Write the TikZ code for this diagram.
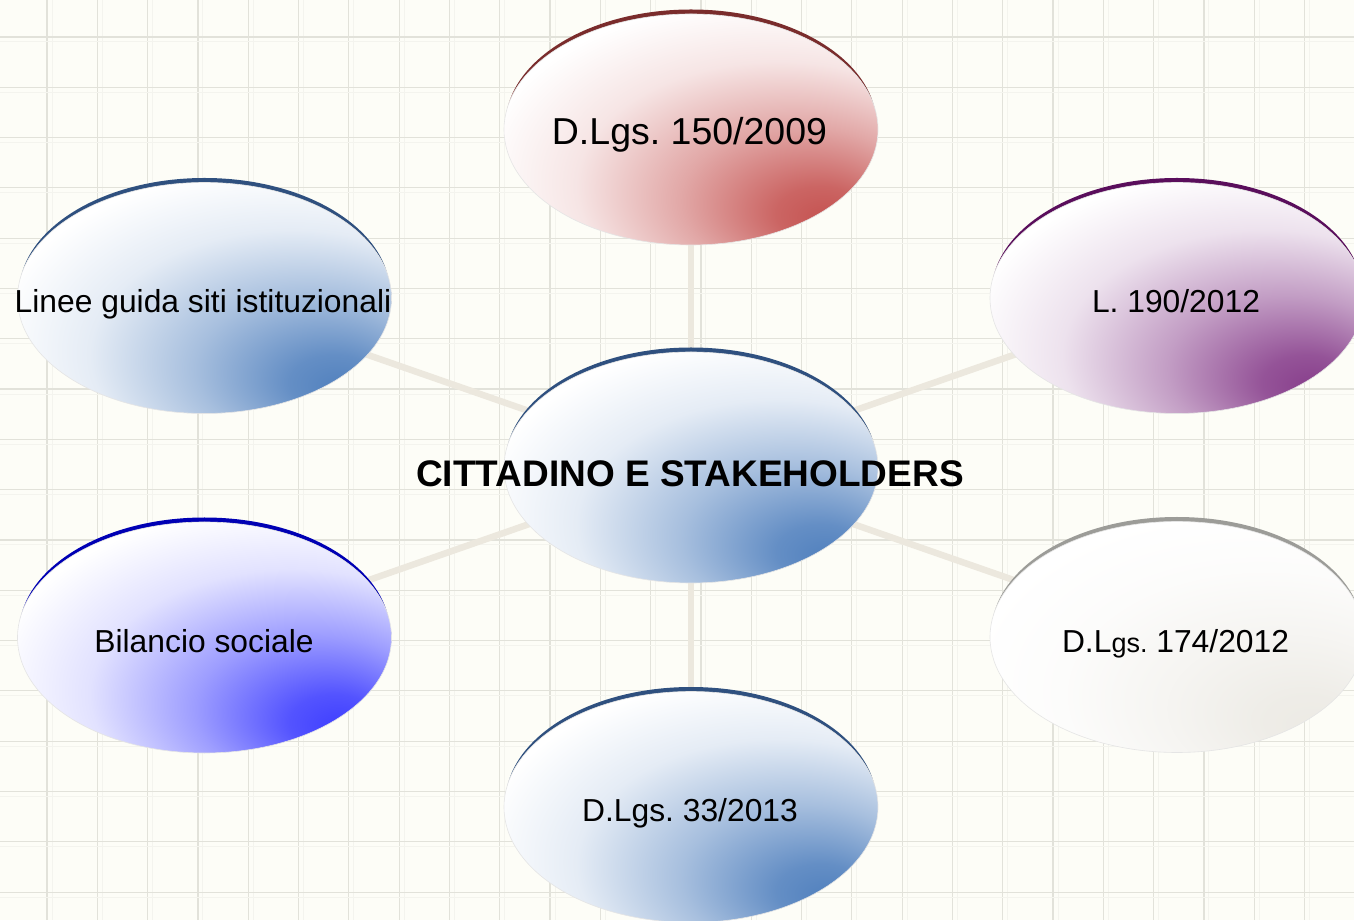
\documentclass[tikz,border=0pt]{standalone}
\usepackage{fontspec}
\setmainfont{Liberation Sans}
\usetikzlibrary{shapes.geometric}

% palette
\definecolor{paper}{HTML}{FDFDF7}
\definecolor{gridline}{HTML}{E2E2DA}
\definecolor{gridfaint}{HTML}{F4F4EE}
\definecolor{spoke}{HTML}{ECE8DE}
\definecolor{cblue}{HTML}{4F7FBD}
\definecolor{cbluerim}{HTML}{2F507F}
\definecolor{cred}{HTML}{C4504E}
\definecolor{credrim}{HTML}{7A2C2C}
\definecolor{cpurple}{HTML}{863C8A}
\definecolor{cpurplerim}{HTML}{5A0E5C}
\definecolor{cvivid}{HTML}{3C3CFF}
\definecolor{cvividrim}{HTML}{0000B4}
\definecolor{cgray}{HTML}{ECEAE4}
\definecolor{cgrayrim}{HTML}{9C9C98}

% glossy fills: white, deepening toward the lower right
\newcommand{\glowshading}[2]{%
  \pgfdeclareradialshading{#1}{\pgfpoint{19bp}{-20bp}}{color(0bp)=(#2); color(6bp)=(#2!88!white); color(16bp)=(#2!50!white); color(27bp)=(#2!15!white); color(37bp)=(white); color(70bp)=(white)}}
\glowshading{glowblue}{cblue}
\glowshading{glowred}{cred}
\glowshading{glowpurple}{cpurple}
\glowshading{glowvivid}{cvivid}
\glowshading{glowgray}{cgray}

\tikzset{
  bubble/.style={ellipse, minimum width=374bp, minimum height=231bp,
    inner sep=0pt, shade, shading=#1, draw=black!10, line width=0.6bp},
  rim/.style={fill=#1},
  label/.style={anchor=base, inner sep=0pt, text=black,
    font=\fontsize{31.8bp}{36bp}\selectfont},
  spokeline/.style={draw=spoke, line width=6.5bp}
}

\begin{document}
\frenchspacing
\begin{tikzpicture}[x=1bp,y=1bp]
  \useasboundingbox (0,0) rectangle (1354,920);
  \clip (0,0) rectangle (1354,920);
  \fill[paper] (0,0) rectangle (1354,920);

  % squared paper
  \foreach \k in {0,...,25} {
    \draw[gridfaint, line width=1bp] ({47+50.3*\k+5},0) -- ++(0,920);
    \draw[gridline, line width=1.2bp] ({47+50.3*\k},0) -- ++(0,920);
  }
  \foreach \k in {0,...,17} {
    \draw[gridfaint, line width=1bp] (0,{883-50.3*\k-5}) -- ++(1354,0);
    \draw[gridline, line width=1.2bp] (0,{883-50.3*\k}) -- ++(1354,0);
  }

  % bubble centres
  \coordinate (pc) at (691,452.5);
  \coordinate (pt) at (691,790.5);
  \coordinate (pb) at (691,113);
  \coordinate (pul) at (204.5,622);
  \coordinate (pll) at (204.5,282.5);
  \coordinate (pur) at (1177,622);
  \coordinate (plr) at (1177,283);

  % spokes from the hub
  \draw[spokeline] (pc) -- (pt);
  \draw[spokeline] (pc) -- (pb);
  \draw[spokeline] (pc) -- (pul);
  \draw[spokeline] (pc) -- (pll);
  \draw[spokeline] (pc) -- (pur);
  \draw[spokeline] (pc) -- (plr);

  % dark rims: a copy of each bubble lifted a little, showing as a crescent on top
  \fill[rim=credrim]    (pt)  ++(0,4.5) ellipse [x radius=185.5, y radius=115.5];
  \fill[rim=cbluerim]   (pc)  ++(0,4.5) ellipse [x radius=185.5, y radius=115.5];
  \fill[rim=cbluerim]   (pb)  ++(0,4.5) ellipse [x radius=185.5, y radius=115.5];
  \fill[rim=cbluerim]   (pul) ++(0,4.5) ellipse [x radius=185.5, y radius=115.5];
  \fill[rim=cvividrim]  (pll) ++(0,4.5) ellipse [x radius=185.5, y radius=115.5];
  \fill[rim=cpurplerim] (pur) ++(0,4.5) ellipse [x radius=185.5, y radius=115.5];
  \fill[rim=cgrayrim]   (plr) ++(0,4.5) ellipse [x radius=185.5, y radius=115.5];

  \node[bubble=glowred]    (top)    at (pt)  {};
  \node[bubble=glowblue]   (hub)    at (pc)  {};
  \node[bubble=glowblue]   (bottom) at (pb)  {};
  \node[bubble=glowblue]   (ul)     at (pul) {};
  \node[bubble=glowvivid]  (ll)     at (pll) {};
  \node[bubble=glowpurple] (ur)     at (pur) {};
  \node[bubble=glowgray]   (lr)     at (plr) {};

  % texts
  \node[label, font=\fontsize{37.5bp}{42bp}\selectfont] (ttop) at (689.5,775) {D.Lgs. 150/2009};
  \node[label, font=\bfseries\fontsize{37bp}{42bp}\selectfont] (thub) at (690,433.3) {CITTADINO E STAKEHOLDERS};
  \node[label] (tbottom) at (690,98.3) {D.Lgs. 33/2013};
  \node[label] (tul) at (203,607) {Linee guida siti istituzionali};
  \node[label] (tur) at (1176,607) {L. 190/2012};
  \node[label] (tll) at (204,267) {Bilancio sociale};
  \node[label] (tlr) at (1175.5,267) {D.L{\fontsize{27bp}{36bp}\selectfont gs.} 174/2012};
\end{tikzpicture}
\end{document}
